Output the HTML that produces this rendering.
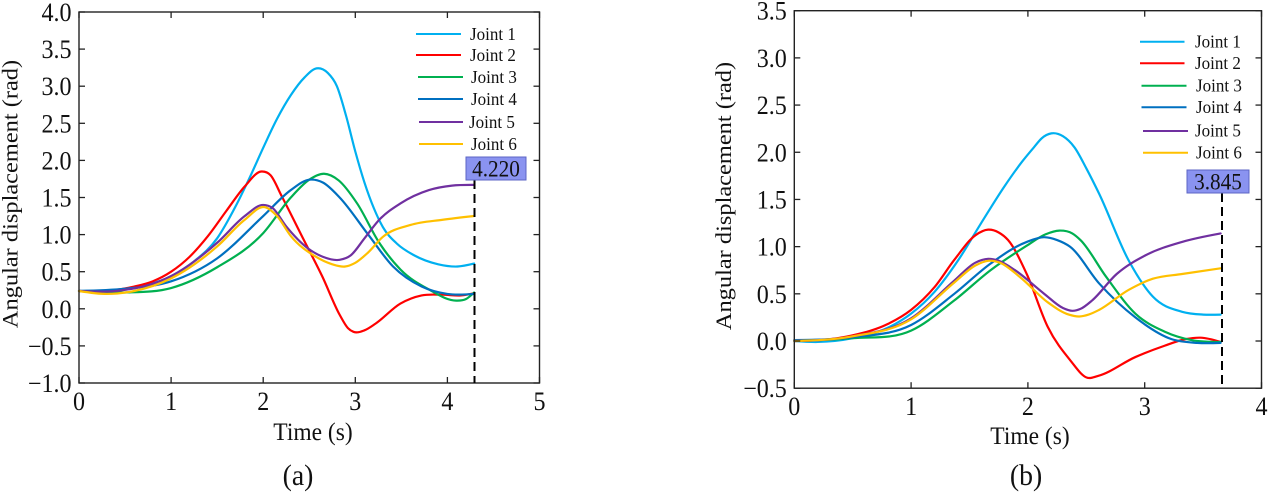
<!DOCTYPE html>
<html>
<head>
<meta charset="utf-8">
<style>
html,body{margin:0;padding:0;background:#fff;}
svg{display:block;}
text{font-family:"Liberation Serif","Times New Roman",serif;fill:#111;}
.tk{font-size:26px;}
.lg{font-size:18.4px;}
.ax{font-size:25.4px;}
.cap{font-size:30px;}
.bx{font-size:23px;}
</style>
</head>
<body>
<svg id="s" width="1269" height="493" viewBox="0 0 1269 493" xmlns="http://www.w3.org/2000/svg">
<g id="L"></g>
<g id="R"></g>
<!-- axis labels -->
<text class="ax" transform="translate(313,440) scale(0.925,1)" text-anchor="middle">Time (s)</text>
<text class="cap" transform="translate(298,485) scale(0.925,1)" text-anchor="middle">(a)</text>
<text class="ax" style="font-size:24.4px" transform="translate(17.5,194) rotate(-90) scale(1,0.925)" text-anchor="middle">Angular displacement (rad)</text>

<text class="ax" transform="translate(1030,444) scale(0.925,1)" text-anchor="middle">Time (s)</text>
<text class="cap" transform="translate(1026,485) scale(0.925,1)" text-anchor="middle">(b)</text>
<text class="ax" style="font-size:24.4px" transform="translate(731,196) rotate(-90) scale(1,0.925)" text-anchor="middle">Angular displacement (rad)</text>

<!-- legend left -->
<g stroke-width="2">
<line x1="416" y1="34" x2="461" y2="34" stroke="#00b0f0"/>
<line x1="416" y1="55" x2="461" y2="55" stroke="#ff0000"/>
<line x1="418" y1="77" x2="463" y2="77" stroke="#00b050"/>
<line x1="418" y1="99" x2="463" y2="99" stroke="#0070c0"/>
<line x1="419" y1="122" x2="463" y2="122" stroke="#7030a0"/>
<line x1="419" y1="144" x2="463" y2="144" stroke="#ffc000"/>
</g>
<text class="lg" transform="translate(470,40) scale(0.925,1)">Joint 1</text>
<text class="lg" transform="translate(470,61) scale(0.925,1)">Joint 2</text>
<text class="lg" transform="translate(471,83) scale(0.925,1)">Joint 3</text>
<text class="lg" transform="translate(471,105) scale(0.925,1)">Joint 4</text>
<text class="lg" transform="translate(469,128) scale(0.925,1)">Joint 5</text>
<text class="lg" transform="translate(471,150) scale(0.925,1)">Joint 6</text>

<!-- legend right -->
<g stroke-width="2">
<line x1="1140" y1="41.7" x2="1184.5" y2="41.7" stroke="#00b0f0"/>
<line x1="1140" y1="63.3" x2="1184.5" y2="63.3" stroke="#ff0000"/>
<line x1="1141.5" y1="85.7" x2="1186.5" y2="85.7" stroke="#00b050"/>
<line x1="1141.5" y1="107.3" x2="1186.5" y2="107.3" stroke="#0070c0"/>
<line x1="1143" y1="131" x2="1188" y2="131" stroke="#7030a0"/>
<line x1="1143" y1="152.7" x2="1188" y2="152.7" stroke="#ffc000"/>
</g>
<text class="lg" transform="translate(1195,47.5) scale(0.925,1)">Joint 1</text>
<text class="lg" transform="translate(1195,69) scale(0.925,1)">Joint 2</text>
<text class="lg" transform="translate(1196,91.5) scale(0.925,1)">Joint 3</text>
<text class="lg" transform="translate(1196,113) scale(0.925,1)">Joint 4</text>
<text class="lg" transform="translate(1195,136.5) scale(0.925,1)">Joint 5</text>
<text class="lg" transform="translate(1196,158.5) scale(0.925,1)">Joint 6</text>

<!-- markers -->
<line x1="474.5" y1="180" x2="474.5" y2="383" stroke="#000" stroke-width="2" stroke-dasharray="9,5"/>
<rect x="466" y="157" width="60" height="23" fill="#8a93f0" stroke="#5c66c4" stroke-width="1"/>
<text class="bx" transform="translate(496,176.5) scale(0.925,1)" text-anchor="middle">4.220</text>

<line x1="1222" y1="193" x2="1222" y2="388" stroke="#000" stroke-width="2" stroke-dasharray="9,5"/>
<rect x="1187" y="170" width="62" height="23" fill="#8a93f0" stroke="#5c66c4" stroke-width="1"/>
<text class="bx" transform="translate(1218,189.5) scale(0.925,1)" text-anchor="middle">3.845</text>
</svg>

<script>
(function(){
var NS="http://www.w3.org/2000/svg";
function el(parent,tag,attrs,txt){var e=document.createElementNS(NS,tag);for(var k in attrs)e.setAttribute(k,attrs[k]);if(txt!==undefined)e.textContent=txt;parent.appendChild(e);return e;}
function smooth(p){
  var n=p.length,h=[],s=[],m=[],i;
  for(i=0;i<n-1;i++){h[i]=p[i+1][0]-p[i][0];s[i]=(p[i+1][1]-p[i][1])/h[i];}
  for(i=1;i<n-1;i++){m[i]=(s[i-1]*h[i]+s[i]*h[i-1])/(h[i-1]+h[i]);}
  m[0]=n>2?(3*s[0]-m[1])/2:s[0];
  m[n-1]=n>2?(3*s[n-2]-m[n-2])/2:s[n-2];
  var d="M"+p[0][0].toFixed(2)+","+p[0][1].toFixed(2);
  for(i=0;i<n-1;i++){
    var x0=p[i][0],y0=p[i][1],x1=p[i+1][0],y1=p[i+1][1],hh=h[i]/3;
    d+="C"+(x0+hh).toFixed(2)+","+(y0+m[i]*hh).toFixed(2)+" "+(x1-hh).toFixed(2)+","+(y1-m[i+1]*hh).toFixed(2)+" "+x1.toFixed(2)+","+y1.toFixed(2);
  }
  return d;
}
var cols=["#00b0f0","#ff0000","#00b050","#0070c0","#7030a0","#ffc000"];
function chart(g,x0,x1,y0,y1,tmax,vmin,vmax,ylabs,data,xlabBase){
  var X=function(t){return x0+(x1-x0)*t/tmax;};
  var Y=function(v){return y1-(y1-y0)*(v-vmin)/(vmax-vmin);};
  for(var j=0;j<data.length;j++){
    var pts=data[j].map(function(a){return [X(a[0]),Y(a[1])];});
    el(g,"path",{d:smooth(pts),fill:"none",stroke:cols[j],"stroke-width":"2.2","stroke-linejoin":"round","stroke-linecap":"round"});
  }
  el(g,"rect",{x:x0,y:y0,width:x1-x0,height:y1-y0,fill:"none",stroke:"#222","stroke-width":"1.4"});
  var tl=6;
  for(var t=0;t<=tmax;t++){
    var xx=X(t);
    el(g,"line",{x1:xx,y1:y1,x2:xx,y2:y1-tl,stroke:"#222","stroke-width":"1.3"});
    el(g,"line",{x1:xx,y1:y0,x2:xx,y2:y0+tl,stroke:"#222","stroke-width":"1.3"});
    el(g,"text",{"class":"tk",transform:"translate("+xx+","+xlabBase+") scale(0.925,1)","text-anchor":"middle"},String(t));
  }
  for(var k=0;k<ylabs.length;k++){
    var v=vmin+0.5*k,yy=Y(v);
    el(g,"line",{x1:x0,y1:yy,x2:x0+tl,y2:yy,stroke:"#222","stroke-width":"1.3"});
    el(g,"line",{x1:x1,y1:yy,x2:x1-tl,y2:yy,stroke:"#222","stroke-width":"1.3"});
    el(g,"text",{"class":"tk",transform:"translate("+(x0-7.5)+","+(yy+9)+") scale(0.925,1)","text-anchor":"end"},ylabs[k]);
  }
}
var left=[
 [[0,0.24],[0.5,0.27],[1.0,0.44],[1.25,0.64],[1.5,0.95],[1.7,1.38],[1.85,1.76],[2.0,2.17],[2.15,2.56],[2.3,2.88],[2.45,3.12],[2.58,3.24],[2.7,3.18],[2.8,3.0],[2.9,2.6],[3.0,2.12],[3.1,1.7],[3.2,1.36],[3.3,1.1],[3.45,0.88],[3.64,0.72],[3.9,0.6],[4.11,0.57],[4.29,0.61]],
 [[0,0.24],[0.3,0.24],[0.6,0.3],[0.8,0.37],[1.0,0.5],[1.2,0.7],[1.4,0.98],[1.6,1.32],[1.8,1.65],[1.98,1.85],[2.08,1.8],[2.2,1.52],[2.44,0.93],[2.64,0.44],[2.83,-0.08],[2.92,-0.26],[2.98,-0.31],[3.1,-0.29],[3.22,-0.2],[3.49,0.07],[3.72,0.18],[3.95,0.19],[4.15,0.18],[4.29,0.21]],
 [[0,0.24],[0.5,0.22],[1.0,0.28],[1.5,0.56],[2.0,1.02],[2.3,1.5],[2.5,1.74],[2.66,1.82],[2.82,1.73],[3.02,1.42],[3.26,0.89],[3.49,0.53],[3.8,0.26],[4.1,0.11],[4.2,0.13],[4.29,0.22]],
 [[0,0.24],[0.5,0.27],[1.0,0.37],[1.5,0.68],[2.0,1.25],[2.3,1.6],[2.5,1.74],[2.65,1.7],[2.83,1.5],[3.14,1.0],[3.41,0.57],[3.72,0.3],[4.0,0.2],[4.29,0.2]],
 [[0,0.24],[0.4,0.24],[1.0,0.44],[1.5,0.89],[1.8,1.25],[2.0,1.4],[2.1,1.36],[2.25,1.11],[2.48,0.82],[2.65,0.7],[2.83,0.66],[2.95,0.72],[3.1,0.95],[3.26,1.2],[3.49,1.42],[3.8,1.6],[4.05,1.66],[4.29,1.67]],
 [[0,0.24],[0.3,0.2],[0.6,0.24],[1.0,0.41],[1.5,0.84],[1.8,1.2],[2.02,1.37],[2.15,1.25],[2.3,0.98],[2.56,0.71],[2.75,0.6],[2.89,0.57],[3.0,0.62],[3.14,0.76],[3.3,0.97],[3.6,1.13],[3.95,1.2],[4.29,1.25]]
];
var right=[
 [[0,0],[0.2,-0.01],[0.5,0.03],[0.8,0.14],[1.0,0.29],[1.2,0.52],[1.4,0.85],[1.6,1.25],[1.8,1.64],[1.95,1.9],[2.05,2.05],[2.12,2.15],[2.2,2.2],[2.3,2.17],[2.4,2.05],[2.5,1.83],[2.61,1.56],[2.86,0.86],[3.07,0.47],[3.32,0.31],[3.5,0.28],[3.65,0.28]],
 [[0,0],[0.5,0.06],[0.8,0.18],[1.0,0.33],[1.2,0.57],[1.37,0.86],[1.55,1.12],[1.66,1.18],[1.75,1.15],[1.83,1.07],[1.99,0.71],[2.17,0.15],[2.36,-0.2],[2.51,-0.39],[2.6,-0.37],[2.92,-0.17],[3.17,-0.05],[3.35,0.02],[3.48,0.035],[3.65,-0.01]],
 [[0,0],[0.5,0.03],[1.0,0.11],[1.37,0.43],[1.68,0.75],[1.99,1.01],[2.15,1.13],[2.27,1.17],[2.38,1.14],[2.45,1.07],[2.67,0.68],[2.92,0.29],[3.17,0.1],[3.4,0.01],[3.65,-0.01]],
 [[0,0.01],[0.5,0.04],[1.0,0.17],[1.37,0.5],[1.68,0.82],[1.99,1.05],[2.14,1.1],[2.25,1.07],[2.36,1.0],[2.61,0.61],[2.92,0.25],[3.23,0.02],[3.45,-0.02],[3.65,-0.02]],
 [[0,0],[0.5,0.05],[1.0,0.24],[1.37,0.64],[1.55,0.83],[1.66,0.87],[1.75,0.85],[1.89,0.75],[2.14,0.5],[2.3,0.35],[2.38,0.32],[2.45,0.34],[2.55,0.43],[2.76,0.71],[3.01,0.91],[3.32,1.05],[3.65,1.14]],
 [[0,0],[0.5,0.05],[1.0,0.23],[1.37,0.62],[1.55,0.8],[1.66,0.85],[1.76,0.83],[1.93,0.68],[2.17,0.41],[2.35,0.28],[2.44,0.26],[2.52,0.28],[2.61,0.33],[2.86,0.54],[3.07,0.66],[3.32,0.71],[3.65,0.77]]
];
chart(document.getElementById("L"),79,539.5,12,383,5,-1,4,
 ["\u22121.0","\u22120.5","0.0","0.5","1.0","1.5","2.0","2.5","3.0","3.5","4.0"],left,410);
chart(document.getElementById("R"),794.3,1261.5,10.7,388.2,4,-0.5,3.5,
 ["\u22120.5","0.0","0.5","1.0","1.5","2.0","2.5","3.0","3.5"],right,415);
})();
</script>
</body>
</html>
